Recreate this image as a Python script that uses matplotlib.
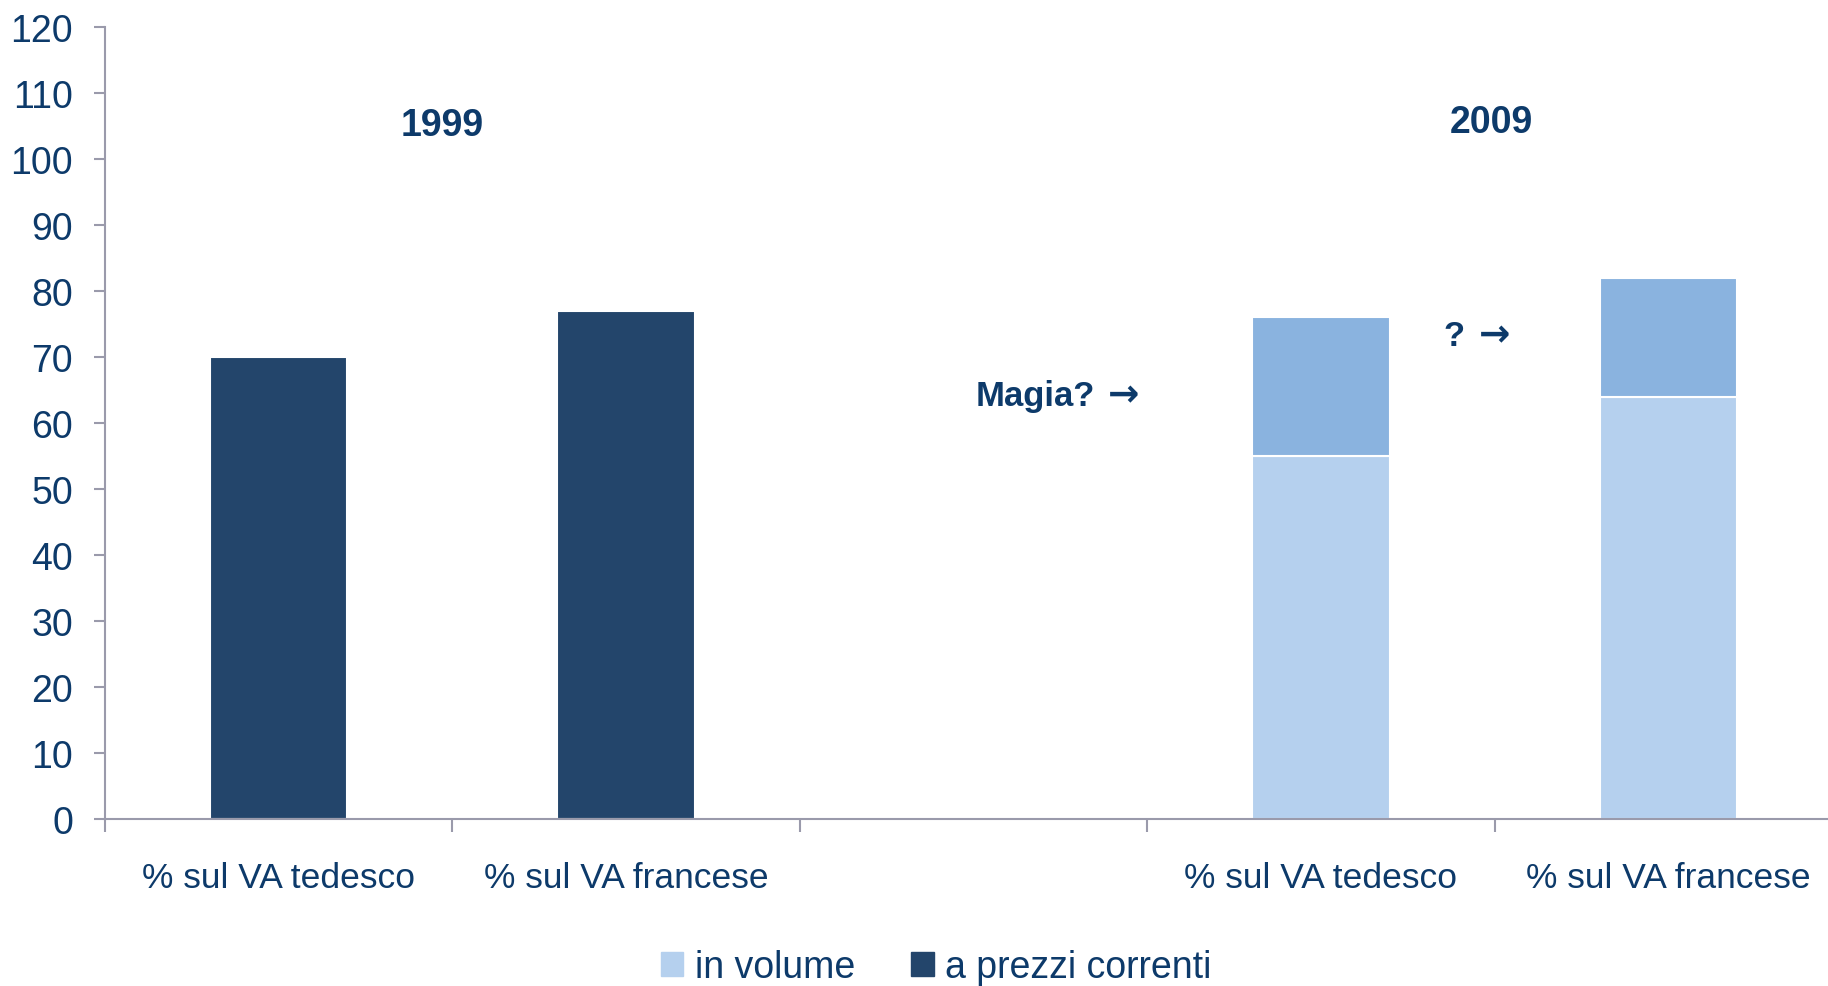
import matplotlib.pyplot as plt
from matplotlib.patches import Patch

plt.rcParams['font.family'] = ['Liberation Sans', 'DejaVu Sans']

# data
categories = ['% sul VA tedesco', '% sul VA francese', '', '% sul VA tedesco', '% sul VA francese']
pos_1999 = [0, 1]
prezzi_1999 = [70, 77]
pos_2009 = [3, 4]
volume_2009 = [55, 64]
correnti_2009 = [76, 82]

dark = '#23456b'
light = '#b5d0ee'
medium = '#8ab3df'
txt = '#0d3a6a'
axcol = '#9a9aab'

fig = plt.figure(figsize=(18.28, 9.87), dpi=100)
ax = fig.add_axes([105/1828, 167/987, 1737/1828, 792/987])

w = 0.395
ax.bar(pos_1999, prezzi_1999, width=w, color=dark, edgecolor='white', linewidth=1.5)
ax.bar(pos_2009, volume_2009, width=w, color=light, edgecolor='white', linewidth=1.5)
top = [c - v for c, v in zip(correnti_2009, volume_2009)]
ax.bar(pos_2009, top, bottom=volume_2009, width=w, color=medium, edgecolor='white', linewidth=1.5)

ax.set_xlim(-0.5, 4.5)
ax.set_ylim(0, 120)
ax.set_yticks(range(0, 121, 10))
ax.set_xticks([-0.5, 0.5, 1.5, 2.5, 3.5, 4.5])
ax.set_xticklabels([])
ax.set_xticks(range(len(categories)), minor=True)
ax.set_xticklabels(categories, minor=True)

ax.tick_params(axis='y', colors=axcol, labelcolor=txt, labelsize=27, length=8, width=1.5, pad=15)
ax.tick_params(axis='x', which='major', colors=axcol, length=9, width=1.5)
ax.tick_params(axis='x', which='minor', length=0, labelcolor=txt, labelsize=25.5, pad=30)

for s in ['top', 'right']:
    ax.spines[s].set_visible(False)
for s in ['left', 'bottom']:
    ax.spines[s].set_color(axcol)
    ax.spines[s].set_linewidth(1.5)

ax.text(0.47, 105.2, '1999', color=txt, fontsize=27, fontweight='bold', ha='center', va='center')
ax.text(3.49, 105.6, '2009', color=txt, fontsize=27, fontweight='bold', ha='center', va='center')
ax.text(2.351, 64.2, 'Magia?', color=txt, fontsize=25, fontweight='bold', ha='right', va='center')
ax.text(2.432, 64.2, '\u2192', color=txt, fontsize=27, fontweight='bold', ha='center', va='center',
        family=['DejaVu Sans'])
ax.text(3.415, 73.3, '?', color=txt, fontsize=25, fontweight='bold', ha='right', va='center')
ax.text(3.50, 73.3, '\u2192', color=txt, fontsize=27, fontweight='bold', ha='center', va='center',
        family=['DejaVu Sans'])

handles = [Patch(color=light, label='in volume'), Patch(color=dark, label='a prezzi correnti')]
fig.legend(handles=handles, loc='center', bbox_to_anchor=(936/1828, 1 - 968/987), ncol=2,
           frameon=False, fontsize=27, labelcolor=txt, handlelength=0.6, handleheight=0.6,
           handletextpad=0.3, columnspacing=1.5)

fig.savefig('out.png', dpi=100)
